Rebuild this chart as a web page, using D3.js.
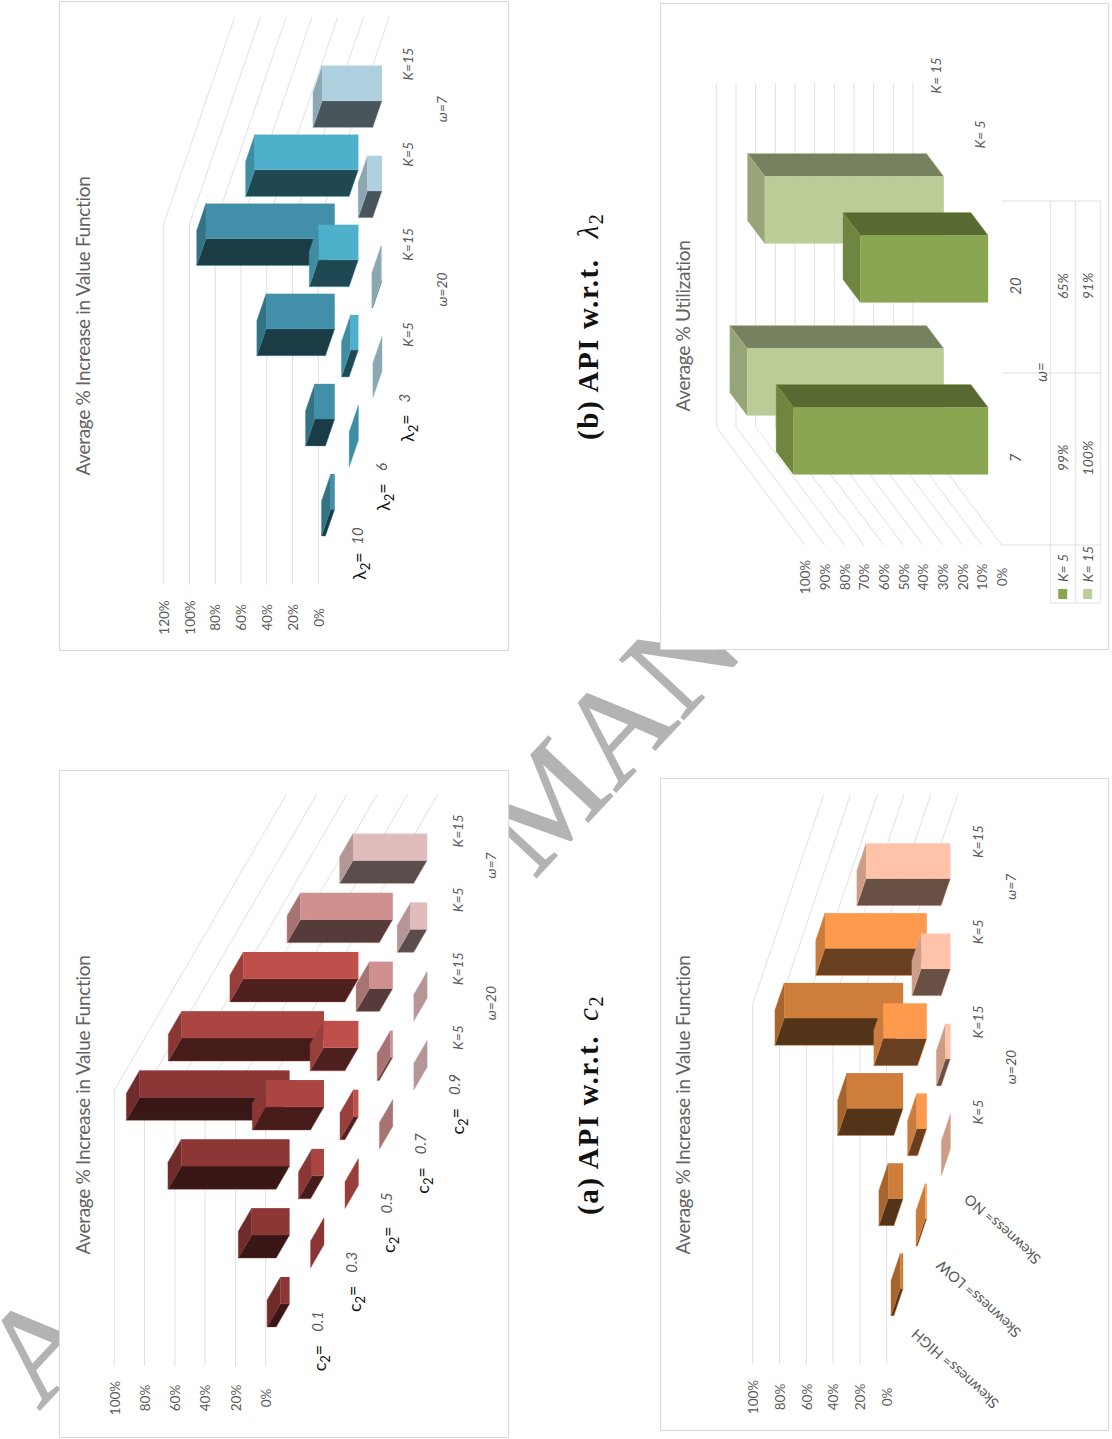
<!DOCTYPE html>
<html>
<head>
<meta charset="utf-8">
<script src="https://cdn.jsdelivr.net/npm/d3@7"></script>
<style>
    html, body { margin: 0; padding: 0; background: #fff; }
    svg { display: block; }
    text { font-family: Lato, 'Open Sans', 'DejaVu Sans', sans-serif; fill: #595959; }
    .mark { font-family: 'Liberation Serif', serif; fill: #b3b3b3; stroke: #b3b3b3; stroke-width: 1.4px; }
    .caption { font-family: 'Liberation Serif', serif; fill: #111; }
</style>
</head>
<body>
<div id="chart"></div>
<script>
// Shared category labels (all in the same order along each chart)
const kLabels = ['K=5', 'K=15', 'K=5', 'K=15'];
const omegaLabels = ['ω=20', 'ω=7'];

// (a) c2
const c2Rows = ['0.1', '0.3', '0.5', '0.7', '0.9'];
const c2Values = [
    [0.06, 0.25, 0.715, 0.99],
    [0, 0.08, 0.385, 0.94],
    [0, 0.033, 0.23, 0.76],
    [0, 0.015, 0.154, 0.61],
    [0, 0, 0.11, 0.49]
];
const c2Colors = ['#8c3736', '#aa4541', '#be4f4b', '#d19090', '#e1bcbc'];
const c2Ticks = [0, 0.2, 0.4, 0.6, 0.8, 1];

// (b) lambda2
const lambdaRows = ['10', '6', '3'];
const lambdaValues = [
    [0.031, 0.155, 0.533, 1],
    [0, 0.06, 0.31, 0.804],
    [0, 0.008, 0.114, 0.465]
];
const lambdaColors = ['#418fa8', '#4eb0ca', '#afd1df'];
const lambdaTicks = [0, 0.2, 0.4, 0.6, 0.8, 1, 1.2];

// Utilization
const utilCats = ['7', '20'];
const utilRows = ['K= 15', 'K= 5'];
const utilValues = [
    [1, 0.91],
    [0.99, 0.65]
];
const utilColors = ['#bbcd96', '#8ba650'];
const utilTicks = [0, 0.1, 0.2, 0.3, 0.4, 0.5, 0.6, 0.7, 0.8, 0.9, 1];

// Skewness
const skewRows = ['Skewness= HIGH', 'Skewness= LOW', 'Skewness= NO'];
const skewValues = [
    [0.022, 0.112, 0.42, 0.888],
    [0.012, 0.075, 0.326, 0.76],
    [0, 0.037, 0.219, 0.63]
];
const skewColors = ['#ce7e3a', '#fd9a4e', '#fec3a8'];
const skewTicks = [0, 0.2, 0.4, 0.6, 0.8, 1];

const width = 1112;
const height = 1439;
const gridColor = '#e0e0e0';
const frameColor = '#d9d9d9';

const svg = d3.select('#chart').append('svg')
    .attr('width', width)
    .attr('height', height)
    .attr('viewBox', [0, 0, width, height]);

// Watermark sits under the white chart panels, only its first letters ever show
svg.append('text')
    .attr('class', 'mark')
    .attr('transform', 'translate(39,1411) rotate(-47)')
    .style('font-size', '134px')
    .text('ACCEPTED MANU');

function shade(color, k) {
    const c = d3.rgb(color);
    return d3.rgb(c.r * k, c.g * k, c.b * k).formatHex();
}

function rotText(g, x, y, str, opts = {}) {
    return g.append('text')
        .attr('transform', `translate(${x},${y}) rotate(${opts.angle ?? -90})`)
        .attr('text-anchor', 'middle')
        .attr('dy', '0.35em')
        .style('font-size', (opts.size ?? 13.5) + 'px')
        .style('font-style', opts.italic ? 'italic' : 'normal')
        .style('font-weight', opts.weight ?? 400)
        .style('letter-spacing', (opts.spacing ?? 0) + 'px')
        .style('fill', opts.fill ?? '#595959')
        .text(str);
}

// Builds one pseudo-3D chart: value runs to the left of the page, categories
// run up the page, the depth rows slide along the diagonal.
function drawPanel(p) {
    const g = svg.append('g');
    const nCats = p.values[0].length;
    const nRows = p.values.length;

    g.append('rect')
        .attr('x', p.frame[0]).attr('y', p.frame[1])
        .attr('width', p.frame[2]).attr('height', p.frame[3])
        .attr('fill', '#fff')
        .attr('stroke', frameColor);

    const x = d3.scaleLinear().domain(p.valueDomain).range(p.valueRange);
    const y = d3.scaleLinear().domain([0, nCats]).range(p.catRange);
    const depthX = d3.scaleLinear().domain([0, nRows]).range([0, p.depthShift[0]]);
    const depthY = d3.scaleLinear().domain([0, nRows]).range([0, p.depthShift[1]]);
    const project = (v, c, d) => [x(v) + depthX(d), y(c) + depthY(d)];

    const catBand = d3.scaleBand().domain(d3.range(nCats)).range([0, nCats]).paddingInner(0.61).paddingOuter(0.305);
    const rowBand = d3.scaleBand().domain(d3.range(nRows)).range([0, nRows]).paddingInner(0.61).paddingOuter(0.305);

    // Gridlines: along the back wall then along the side wall
    g.append('g')
        .attr('fill', 'none')
        .attr('stroke', gridColor)
        .selectAll('path')
        .data(p.ticks)
        .join('path')
        .attr('d', t => d3.line()([
            project(t, p.wallStart, 0),
            project(t, p.wallEnd, 0),
            project(t, p.wallEnd, nRows)
        ]));

    // Value axis
    const axisX = d3.scaleLinear().domain(p.valueDomain)
        .range(p.valueRange.map(v => v + depthX(p.axisDepth)));
    g.append('g')
        .attr('transform', `translate(0,${p.axisY})`)
        .call(d3.axisBottom(axisX).tickValues(p.ticks).tickFormat(d3.format('.0%')).tickSize(0))
        .call(a => a.select('.domain').remove())
        .call(a => a.selectAll('text')
            .attr('x', 0).attr('y', 0).attr('dy', '0.35em')
            .attr('text-anchor', 'middle')
            .attr('transform', 'rotate(-90)')
            .style('font-family', 'Lato, sans-serif')
            .style('font-size', '13.5px')
            .style('fill', '#595959'));

    // Bars, back row first
    const bars = p.values.flatMap((row, r) => row.map((v, c) => ({v, c, r})));
    const bar = g.append('g').selectAll('g').data(bars).join('g');
    const poly = pts => pts.map(q => q.join(',')).join(' ');
    const edges = d => {
        const c0 = catBand(d.c), c1 = c0 + catBand.bandwidth();
        const d0 = rowBand(d.r), d1 = d0 + rowBand.bandwidth();
        return {c0, c1, d0, d1, edgeCat: p.depthShift[1] < 0 ? c0 : c1};
    };
    bar.append('polygon')
        .attr('fill', d => shade(p.colors[d.r], 0.8))
        .attr('stroke', d => shade(p.colors[d.r], 0.9))
        .attr('stroke-width', 0.4)
        .attr('points', d => {
            const e = edges(d);
            return poly([project(d.v, e.c0, e.d1), project(d.v, e.c1, e.d1), project(d.v, e.c1, e.d0), project(d.v, e.c0, e.d0)]);
        });
    bar.append('polygon')
        .attr('fill', d => shade(p.colors[d.r], p.edgeShade ?? 0.41))
        .attr('stroke', d => p.colors[d.r])
        .attr('stroke-width', d => d.v > 0 ? 0.4 : 0)
        .attr('points', d => {
            const e = edges(d);
            return poly([project(0, e.edgeCat, e.d1), project(d.v, e.edgeCat, e.d1), project(d.v, e.edgeCat, e.d0), project(0, e.edgeCat, e.d0)]);
        });
    bar.append('rect')
        .attr('fill', d => p.colors[d.r])
        .attr('x', d => project(d.v, 0, edges(d).d1)[0])
        .attr('y', d => { const e = edges(d); return project(0, e.c1, e.d1)[1]; })
        .attr('width', d => x(0) - x(d.v))
        .attr('height', d => { const e = edges(d); return project(0, e.c0, e.d1)[1] - project(0, e.c1, e.d1)[1]; });

    rotText(g, p.titlePos[0], p.titlePos[1], p.title, {size: 19, spacing: -0.3, fill: '#636363'});

    return {g, project, nRows, nCats, y, depthY, x, depthX};
}

// Labels shared by the three K / omega charts
function kAxisLabels(a, kX, omegaX) {
    kLabels.forEach((s, i) => {
        const yy = a.project(0, i + 0.5, a.nRows)[1] + 2;
        rotText(a.g, kX, yy, s, {italic: true, size: 14});
    });
    omegaLabels.forEach((s, i) => {
        const yy = a.project(0, i * 2 + 1, a.nRows)[1] + 2;
        rotText(a.g, omegaX, yy, s, {italic: true, size: 14});
    });
}

function stackedRowLabel(a, r, sym, val, offSym, offVal) {
    const base = a.project(0, 0, r + 0.5);
    const t = rotText(a.g, base[0] + offSym[0], base[1] + offSym[1], '', {size: 18, fill: '#111'});
    t.append('tspan').text(sym);
    t.append('tspan').attr('dy', '0.3em').style('font-size', '13px').text('2');
    t.append('tspan').attr('dy', '-0.3em').text('=');
    rotText(a.g, base[0] + offVal[0], base[1] + offVal[1], val, {italic: true, size: 15});
}

// --- (a) c2 ---
const red = drawPanel({
    frame: [59.5, 770.5, 449, 667],
    title: 'Average % Increase in Value Function',
    titlePos: [83, 1105],
    valueDomain: [0, 1],
    valueRange: [265.7, 114.3],
    catRange: [1366, 1090.5],
    depthShift: [172, -296],
    wallStart: 0,
    wallEnd: 4,
    axisDepth: 0,
    axisY: 1398,
    ticks: c2Ticks,
    values: c2Values,
    colors: c2Colors
});
kAxisLabels(red, 458, 491);
c2Rows.forEach((s, r) => stackedRowLabel(red, r, 'c', s, [37, 21.6], [34.6, -15]));

// --- (b) lambda2 ---
const blue = drawPanel({
    frame: [59.5, 1.5, 449, 649],
    title: 'Average % Increase in Value Function',
    titlePos: [83, 326],
    valueDomain: [0, 1.2],
    valueRange: [318.3, 163.7],
    catRange: [584.6, 224],
    depthShift: [71, -207],
    wallStart: 0,
    wallEnd: 4,
    axisDepth: 0,
    axisY: 617.5,
    ticks: lambdaTicks,
    values: lambdaValues,
    colors: lambdaColors
});
kAxisLabels(blue, 408, 441.7);
lambdaRows.forEach((s, r) => stackedRowLabel(blue, r, 'λ', s, [30, 16], [27.7, -14]));

// --- Utilization ---
const green = drawPanel({
    frame: [660.5, 3.5, 448, 646],
    title: 'Average % Utilization',
    titlePos: [683, 326],
    valueDomain: [0, 1],
    valueRange: [913, 716.3],
    catRange: [427, 83],
    depthShift: [88.7, 118],
    wallStart: 0,
    wallEnd: 2,
    axisDepth: 2,
    axisY: 577,
    edgeShade: 0.63,
    ticks: utilTicks,
    values: utilValues,
    colors: utilColors
});
// the side wall sits on the near end here, so redraw it from the first category
green.g.select('g').selectAll('path')
    .attr('d', t => d3.line()([
        green.project(t, 2, 0),
        green.project(t, 0, 0),
        green.project(t, 0, 2)
    ]));

// Data table under the utilization chart
const tableX = [1050.3, 1075.7, 1100.3];
const tableY = [green.project(0, 2, 2)[1], green.project(0, 1, 2)[1], green.project(0, 0, 2)[1], 603];
const tableG = green.g.append('g').attr('stroke', gridColor).attr('fill', 'none');
tableX.forEach(tx => tableG.append('line').attr('x1', tx).attr('x2', tx).attr('y1', tableY[0]).attr('y2', tableY[3]));
tableY.forEach((ty, i) => tableG.append('line')
    .attr('x1', i < 3 ? green.project(0, 0, 2)[0] : tableX[0])
    .attr('x2', tableX[2])
    .attr('y1', ty).attr('y2', ty));

utilCats.forEach((s, i) => {
    const yy = green.project(0, i + 0.5, 2)[1] - 1;
    rotText(green.g, 1016, yy, s, {italic: true, size: 15});
    rotText(green.g, 1062.7, yy, d3.format('.0%')(utilValues[1][i]), {italic: true, size: 14});
    rotText(green.g, 1087.7, yy, d3.format('.0%')(utilValues[0][i]), {italic: true, size: 14});
});
rotText(green.g, 1041.7, 372, 'ω=', {italic: true, size: 15});
utilRows.forEach((s, r) => {
    const q = green.project(0, 2, r + 0.5);
    rotText(green.g, q[0] + 1, q[1] - 37, s, {italic: true, size: 14});
});
[[1, 1062.7], [0, 1087.7]].forEach(([r, tx]) => {
    rotText(green.g, tx, r === 1 ? 568 : 564, utilRows[r], {italic: true, size: 14});
    green.g.append('rect')
        .attr('x', tx - 4.5).attr('y', 589)
        .attr('width', 9).attr('height', 10)
        .attr('fill', utilColors[r]);
});

// --- Skewness ---
const orange = drawPanel({
    frame: [660.5, 778.5, 448, 652],
    title: 'Average % Increase in Value Function',
    titlePos: [683, 1105],
    valueDomain: [0, 1],
    valueRange: [886.7, 752.7],
    catRange: [1364.6, 1003.9],
    depthShift: [71, -209.4],
    wallStart: 0,
    wallEnd: 4,
    axisDepth: 0,
    axisY: 1397,
    ticks: skewTicks,
    values: skewValues,
    colors: skewColors
});
kAxisLabels(orange, 978.3, 1010.7);
skewRows.forEach((s, r) => {
    const q = orange.project(0, 0, r + 0.5);
    rotText(orange.g, q[0] + 56.5, q[1] + 39, s, {angle: 222, size: 14.5});
});

// --- Captions ---
function caption(y, letter, sym, gap) {
    const t = svg.append('text')
        .attr('class', 'caption')
        .attr('transform', `translate(598,${y}) rotate(-90)`)
        .style('font-size', '29px')
        .style('font-weight', 700)
        .style('letter-spacing', '1.6px');
    t.append('tspan').text(`(${letter}) API w.r.t.`);
    t.append('tspan')
        .attr('dx', gap)
        .style('font-style', 'italic')
        .style('font-weight', 400)
        .text(sym);
    t.append('tspan')
        .attr('dy', '0.25em')
        .style('font-size', '20px')
        .style('font-weight', 400)
        .text('2');
}
caption(1215, 'a', 'c', 14);
caption(440, 'b', 'λ', 20);
</script>
</body>
</html>
